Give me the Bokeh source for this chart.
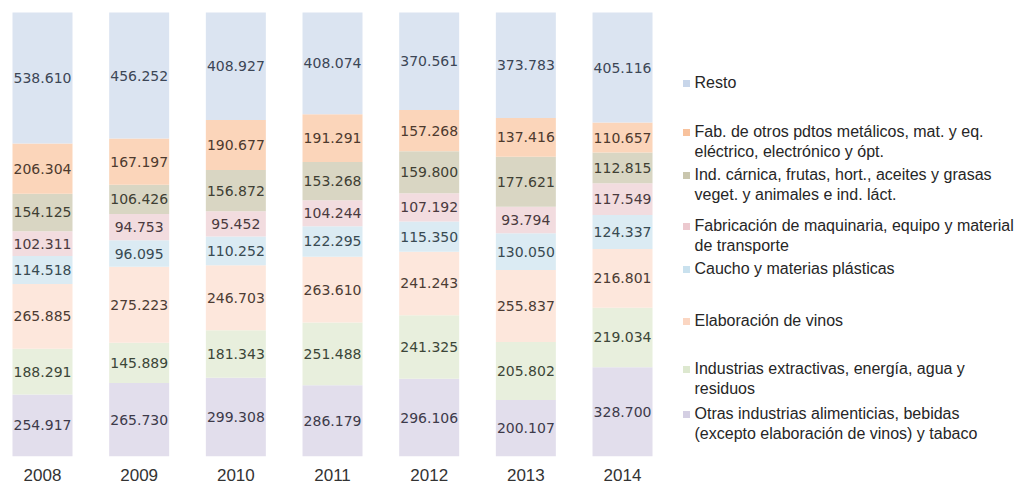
import numpy as np
from bokeh.plotting import figure
from bokeh.models import ColumnDataSource, Range1d, FixedTicker
from bokeh.core.properties import value
from bokeh.embed import file_html
from bokeh.resources import INLINE

# ---------------- data ----------------
years = [2008, 2009, 2010, 2011, 2012, 2013, 2014]

# series listed from the bottom of each column to the top
series_names = [
    "Otras industrias alimenticias, bebidas\n(excepto elaboración de vinos) y tabaco",
    "Industrias extractivas, energía, agua y\nresiduos",
    "Elaboración de vinos",
    "Caucho y materias plásticas",
    "Fabricación de maquinaria, equipo y material\nde transporte",
    "Ind. cárnica, frutas, hort., aceites y grasas\nveget. y animales e ind. láct.",
    "Fab. de otros pdtos metálicos, mat. y eq.\neléctrico, electrónico y ópt.",
    "Resto",
]

otras_alimenticias = [254917, 265730, 299308, 286179, 296106, 200107, 328700]
extractivas = [188291, 145889, 181343, 251488, 241325, 205802, 219034]
vinos = [265885, 275223, 246703, 263610, 241243, 255837, 216801]
caucho = [114518, 96095, 110252, 122295, 115350, 130050, 124337]
maquinaria = [102311, 94753, 95452, 104244, 107192, 93794, 117549]
carnica = [154125, 106426, 156872, 153268, 159800, 177621, 112815]
metalicos = [206304, 167197, 190677, 191291, 157268, 137416, 110657]
resto = [538610, 456252, 408927, 408074, 370561, 373783, 405116]

values = [otras_alimenticias, extractivas, vinos, caucho, maquinaria, carnica, metalicos, resto]

# ---------------- style ----------------
fill_colors = ["#e2deec", "#e8efdd", "#fde7dc", "#dbebf3", "#f2dcdf", "#d9d6c3", "#fbd5ba", "#dbe4f1"]
marker_colors = ["#d4cfe3", "#dde8cf", "#fbd6c2", "#c9e1ee", "#ecc9cf", "#c9c6ae", "#f8c29d", "#c8d6ea"]
label_colors = ["#3d3a4a", "#3c4638", "#4c3c34", "#384a52", "#4a3a3e", "#3f3f34", "#4d3a2e", "#3c4656"]

FRAME_W = 1029
FRAME_H = 456
PITCH = 96.67          # px between columns
FIRST_CENTER = 42      # px from frame left to first column centre
BAR_W = 60 / PITCH
Y_TOP_PAD = 12         # px between frame top and 100 %
Y_BOT_PAD = 0          # px between 0 % and frame bottom
PX_PER_UNIT = FRAME_H - Y_TOP_PAD - Y_BOT_PAD

x_start = years[0] - FIRST_CENTER / PITCH
x_end = x_start + FRAME_W / PITCH
y_start = -Y_BOT_PAD / PX_PER_UNIT
y_end = 1 + Y_TOP_PAD / PX_PER_UNIT

# legend layout (px above the 0 % line, first text line centre), bottom series first
legend_offsets_px = [42, 87, 135, 187, 230, 281, 324, 373]
legend_marker_dx = 644 / PITCH
legend_text_dx = 652 / PITCH
LEGEND_FONT = 16
LEGEND_LINE_H = 1.14

# ---------------- compute shares ----------------
vals = np.array(values, dtype=float)
totals = vals.sum(axis=0)
shares = vals / totals
bottoms = np.vstack([np.zeros(len(years)), np.cumsum(shares, axis=0)[:-1]])
mids = bottoms + shares / 2

keys = [f"s{i}" for i in range(len(series_names))]
data = {"year": years}
for k, s in zip(keys, shares):
    data[k] = list(s)
src = ColumnDataSource(data)

p = figure(
    frame_width=FRAME_W,
    frame_height=FRAME_H,
    x_range=Range1d(x_start, x_end),
    y_range=Range1d(y_start, y_end),
    output_backend="svg",
    toolbar_location=None,
    y_axis_location=None,
    min_border=0,
    min_border_left=0,
    min_border_right=0,
    min_border_top=0,
    min_border_bottom=0,
    background_fill_color="white",
    border_fill_color="white",
)
p.outline_line_color = None
p.xgrid.visible = False
p.ygrid.visible = False

p.vbar_stack(keys, x="year", width=BAR_W, source=src, color=fill_colors, line_color=None)

# data labels
for i, k in enumerate(keys):
    lab_src = ColumnDataSource(dict(
        x=years,
        y=list(mids[i]),
        t=[f"{int(v):,}".replace(",", ".") for v in values[i]],
    ))
    p.text(x="x", y="y", text="t", source=lab_src,
           text_font=value("DejaVu Sans"), text_font_size="14px",
           text_color=label_colors[i], text_align="center", text_baseline="middle")

# legend (manual)
for i, name in enumerate(series_names):
    ly = legend_offsets_px[i] / PX_PER_UNIT
    p.scatter(x=[years[0] + legend_marker_dx], y=[ly], marker="square", size=7,
              fill_color=marker_colors[i], line_color=None)
    top = ly + (LEGEND_FONT * LEGEND_LINE_H / 2) / PX_PER_UNIT
    p.text(x=[years[0] + legend_text_dx], y=[top], text=[name],
           text_font=value("Liberation Sans"), text_font_size=f"{LEGEND_FONT}px",
           text_color="#262626", text_align="left", text_baseline="top",
           text_line_height=LEGEND_LINE_H)

ax = p.xaxis[0]
ax.ticker = FixedTicker(ticks=years)
ax.axis_line_color = None
ax.major_tick_line_color = None
ax.minor_tick_line_color = None
ax.major_tick_out = 0
ax.major_tick_in = 0
ax.major_label_standoff = 12
ax.major_label_text_font = "Liberation Sans"
ax.major_label_text_font_size = "17px"
ax.major_label_text_color = "#333333"

open("out.html", "w").write(file_html(p, INLINE))
